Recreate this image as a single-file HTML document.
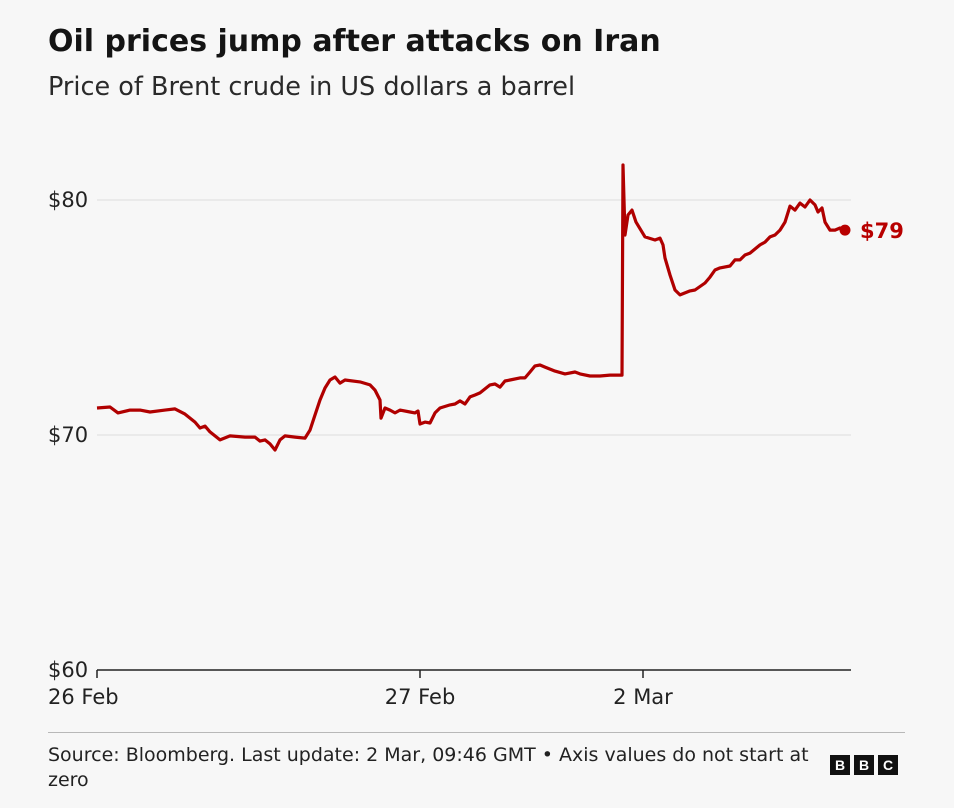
<!DOCTYPE html>
<html><head><meta charset="utf-8"><style>
body{margin:0;background:#f7f7f7;font-family:"DejaVu Sans","Liberation Sans",sans-serif;}
#wrap{position:relative;width:954px;height:808px;overflow:hidden;background:#f7f7f7;}
.t{position:absolute;white-space:nowrap;color:#141414;}
</style></head><body>
<div id="wrap">
<div class="t" style="left:48px;top:24px;font-size:30px;font-weight:bold;">Oil prices jump after attacks on Iran</div>
<div class="t" style="left:48px;top:72px;font-size:25.5px;color:#2a2a2a;">Price of Brent crude in US dollars a barrel</div>
<svg id="chart" width="954" height="730" style="position:absolute;left:0;top:0"></svg>
<div style="position:absolute;left:48px;top:732px;width:857px;height:1px;background:#b8b8b8"></div>
<div class="t" style="left:48px;top:743px;font-size:19px;line-height:25px;white-space:normal;width:775px;color:#222">Source: Bloomberg. Last update: 2 Mar, 09:46 GMT • Axis values do not start at zero</div>
<div style="position:absolute;left:830px;top:755px;display:flex;gap:4px;font-family:'Liberation Sans',sans-serif">
<div style="width:20px;height:20px;background:#111;color:#fff;font-weight:bold;font-size:14px;text-align:center;line-height:20px">B</div>
<div style="width:20px;height:20px;background:#111;color:#fff;font-weight:bold;font-size:14px;text-align:center;line-height:20px">B</div>
<div style="width:20px;height:20px;background:#111;color:#fff;font-weight:bold;font-size:14px;text-align:center;line-height:20px">C</div>
</div>
</div>
<script>
const times=[0,13,21,33,43,53,68,78,88,98,103,108,113,123,133,148,158,163,168,173,178,183,188,198,208,213,218,223,228,233,238,243,248,263,273,278,283,284,288,293,298,303,313,318,321,323,328,333,338,343,353,358,363,368,373,378,383,393,398,403,408,413,423,428,433,438,443,448,458,468,478,483,493,503,513,525,526,528,531,535,539,548,558,563,566,568,573,578,583,593,598,608,613,618,623,633,638,643,648,653,663,668,673,678,683,688,693,698,703,708,713,718,721,725,728,733,738,743,748];
const prices=[71.15,71.19,70.94,71.06,71.06,70.98,71.06,71.11,70.89,70.55,70.30,70.38,70.13,69.79,69.96,69.91,69.91,69.74,69.79,69.62,69.36,69.79,69.96,69.91,69.87,70.21,70.85,71.49,72.00,72.34,72.47,72.21,72.34,72.26,72.13,71.91,71.49,70.72,71.15,71.06,70.94,71.06,70.98,70.94,71.02,70.47,70.55,70.51,70.94,71.15,71.28,71.32,71.45,71.32,71.62,71.70,71.79,72.13,72.17,72.04,72.30,72.34,72.43,72.43,72.68,72.94,72.98,72.89,72.72,72.60,72.68,72.60,72.51,72.51,72.55,72.55,81.49,78.51,79.36,79.57,79.06,78.43,78.30,78.38,78.09,77.53,76.81,76.17,75.96,76.13,76.17,76.47,76.72,77.02,77.11,77.19,77.45,77.45,77.66,77.74,78.09,78.21,78.43,78.51,78.72,79.06,79.74,79.57,79.87,79.70,80.00,79.79,79.49,79.66,79.06,78.72,78.72,78.81,78.72];
const yTicks=[60,70,80];
const yTickLabels=["$60","$70","$80"];
const xTickTimes=[0,323,546];
const xTickLabels=["26 Feb","27 Feb","2 Mar"];
const lastLabel="$79";

const NS="http://www.w3.org/2000/svg";
const svg=document.getElementById('chart');
const X0=97,X1=851,T1=754,Y60=670,Y80=200;
const FF='DejaVu Sans, Liberation Sans, sans-serif';
const xs=t=>X0+t*(X1-X0)/T1;
const ys=p=>Y60-(p-60)*(Y60-Y80)/20;
function mk(tag,attrs){const e=document.createElementNS(NS,tag);for(const k in attrs)e.setAttribute(k,attrs[k]);svg.appendChild(e);return e;}
yTicks.forEach((v,i)=>{
  if(v>60){const g=mk('line',{x1:X0,x2:X1,y1:ys(v),y2:ys(v),stroke:'#e2e2e2','stroke-width':1.2});
  
  }
  const t=mk('text',{x:48,y:ys(v)+7,'font-size':21,fill:'#222','font-family':FF});
  t.textContent=yTickLabels[i];
  
  
});
const ax=mk('line',{x1:X0,x2:X1,y1:Y60,y2:Y60,stroke:'#222','stroke-width':1.5});


xTickTimes.forEach((tt,i)=>{
  const tk=mk('line',{x1:xs(tt),x2:xs(tt),y1:Y60,y2:Y60+8,stroke:'#222','stroke-width':1.5});
  
  
  const t=mk('text',{x:i==0?48:xs(tt),y:Y60+34,'font-size':21,fill:'#222','text-anchor':i==0?'start':'middle','font-family':FF});
  t.textContent=xTickLabels[i];
  
  
});
let d='';times.forEach((t,i)=>{d+=(i?'L':'M')+xs(t).toFixed(1)+','+ys(prices[i]).toFixed(1);});
const ln=mk('path',{d:d,fill:'none',stroke:'#b00000','stroke-width':3.2,'stroke-linejoin':'round'});


const n=times.length-1;
const dot=mk('circle',{cx:xs(times[n]),cy:ys(prices[n]),r:5.5,fill:'#b80000'});


const lt=mk('text',{x:xs(times[n])+15,y:ys(prices[n])+8,'font-size':21,'font-weight':'bold',fill:'#b80000','font-family':FF});
lt.textContent=lastLabel;


</script>
</body></html>
